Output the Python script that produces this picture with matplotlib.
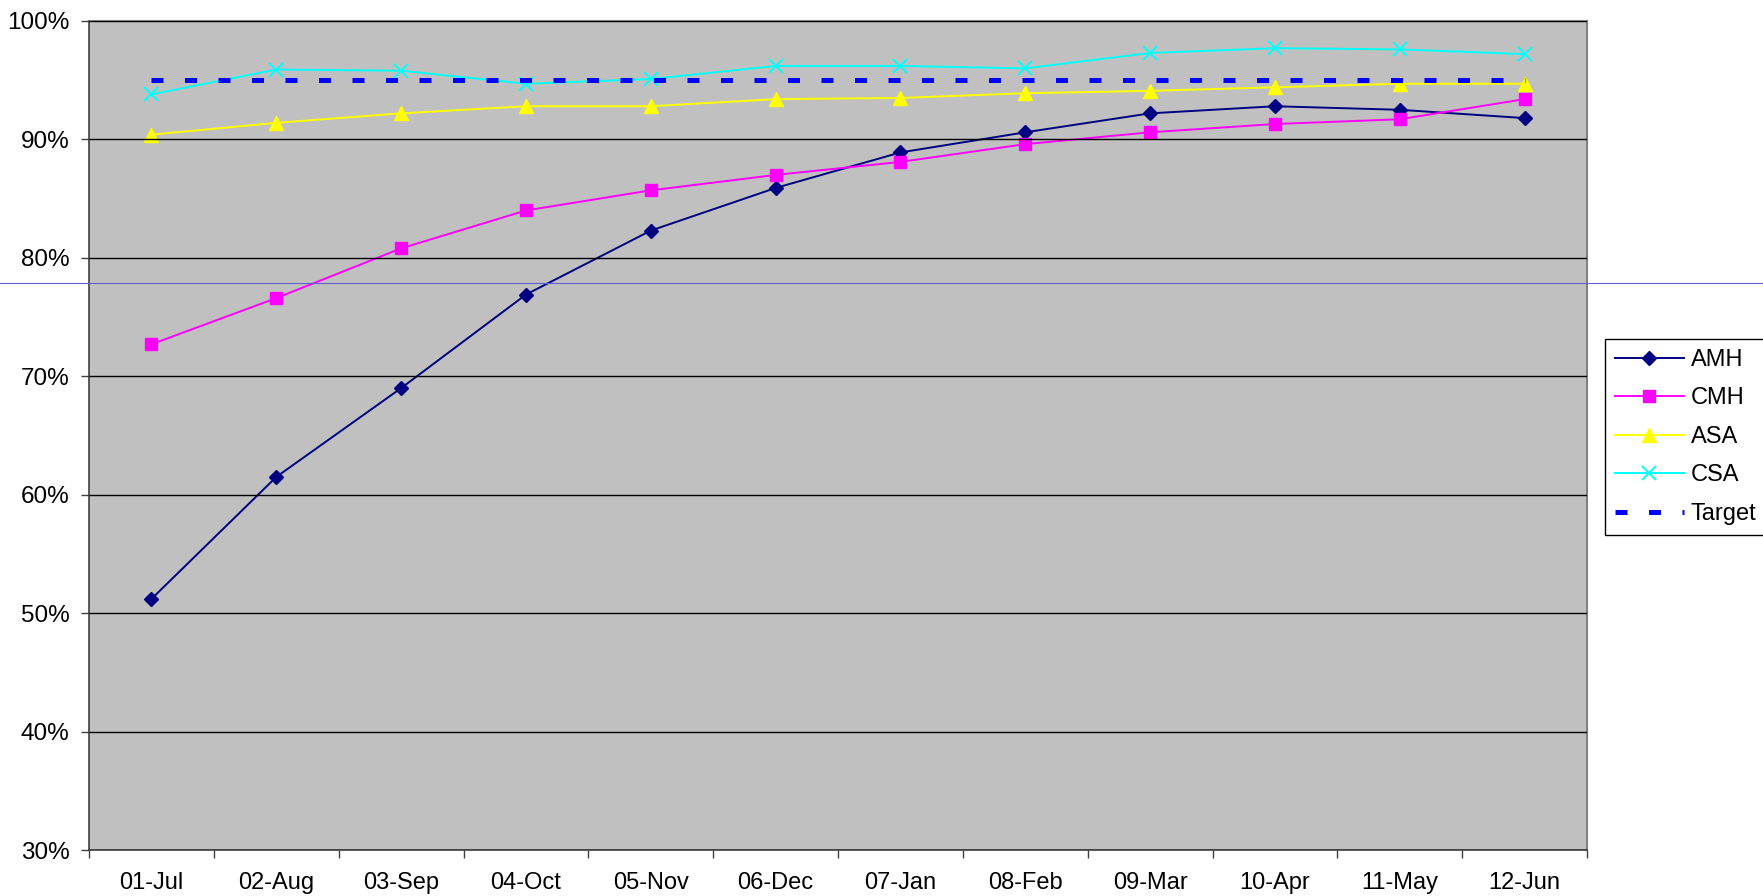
import numpy as np
import matplotlib.pyplot as plt
from matplotlib.lines import Line2D
from matplotlib.ticker import FixedLocator, FuncFormatter

plt.rcParams['font.family'] = ['Liberation Sans', 'DejaVu Sans']

# Monthly compliance per group (%)
maanden = ['01-Jul', '02-Aug', '03-Sep', '04-Oct', '05-Nov', '06-Dec',
           '07-Jan', '08-Feb', '09-Mar', '10-Apr', '11-May', '12-Jun']
amh = [51.2, 61.5, 69.0, 76.9, 82.3, 85.9, 88.9, 90.6, 92.2, 92.8, 92.5, 91.8]
cmh = [72.7, 76.6, 80.8, 84.0, 85.7, 87.0, 88.1, 89.6, 90.6, 91.3, 91.7, 93.4]
asa = [90.4, 91.4, 92.2, 92.8, 92.8, 93.4, 93.5, 93.9, 94.1, 94.4, 94.7, 94.7]
csa = [93.8, 95.9, 95.8, 94.7, 95.1, 96.2, 96.2, 96.0, 97.3, 97.7, 97.6, 97.2]
target = [95.0] * 12
referentie = 77.9  # thin blue line across the sheet

x = np.arange(len(maanden))

fig = plt.figure(figsize=(17.63, 8.96), dpi=100)
ax = fig.add_axes([0.0505, 0.0513, 0.8497, 0.9253])
ax.set_facecolor('#c0c0c0')

ax.plot(x, amh, color='#000080', lw=1.4, marker='D', ms=7.5, label='AMH')
ax.plot(x, cmh, color='#ff00ff', lw=1.4, marker='s', ms=8, label='CMH')
ax.plot(x, asa, color='#ffff00', lw=1.4, marker='^', ms=9.5, label='ASA')
ax.plot(x, csa, color='#00ffff', lw=1.4, marker='x', ms=9.5, mew=1.4, label='CSA')
ax.plot(x, target, color='#0000ff', lw=3.6, dashes=(2.4, 4.3), label='Target')

ax.set_xlim(-0.5, len(maanden) - 0.5)
ax.set_ylim(30, 100)

# Grid and percent ticks
ax.set_yticks(np.arange(30, 101, 10))
ax.yaxis.set_major_formatter(FuncFormatter(lambda v, p: f'{v:.0f}%'))
ax.grid(axis='y', color='black', lw=1)
ax.set_axisbelow(False)
ax.tick_params(axis='y', direction='out', length=6, width=1, color='#404040',
               labelsize=17.5, pad=8)

# x: tick marks between categories, labels in the middle
ax.xaxis.set_major_locator(FixedLocator(np.arange(-0.5, len(maanden), 1)))
ax.xaxis.set_major_formatter(FuncFormatter(lambda v, p: ''))
ax.xaxis.set_minor_locator(FixedLocator(x))
ax.set_xticklabels(maanden, minor=True)
ax.tick_params(axis='x', which='major', direction='out', length=6, width=1,
               color='#404040')
ax.tick_params(axis='x', which='minor', length=0, labelsize=17, pad=16)

for kant in ['left', 'bottom']:
    ax.spines[kant].set_color('#404040')
    ax.spines[kant].set_linewidth(1.2)
for kant in ['top', 'right']:
    ax.spines[kant].set_color('#808080')
    ax.spines[kant].set_linewidth(1.5)

leg = ax.legend(loc='upper left', bbox_to_anchor=(0.9105, 0.6217),
                bbox_transform=fig.transFigure, fontsize=17, frameon=True,
                fancybox=False, edgecolor='black', framealpha=1,
                handlelength=2.9, handletextpad=0.3, borderpad=0.42,
                labelspacing=0.7, borderaxespad=0)
leg.get_frame().set_linewidth(1)

y_ref = ax.transData.transform((0, referentie))[1] / fig.bbox.height
fig.add_artist(Line2D([0, 1], [y_ref, y_ref], transform=fig.transFigure,
                      color='#6060d0', lw=0.8))

plt.savefig('out.png', dpi=100)
